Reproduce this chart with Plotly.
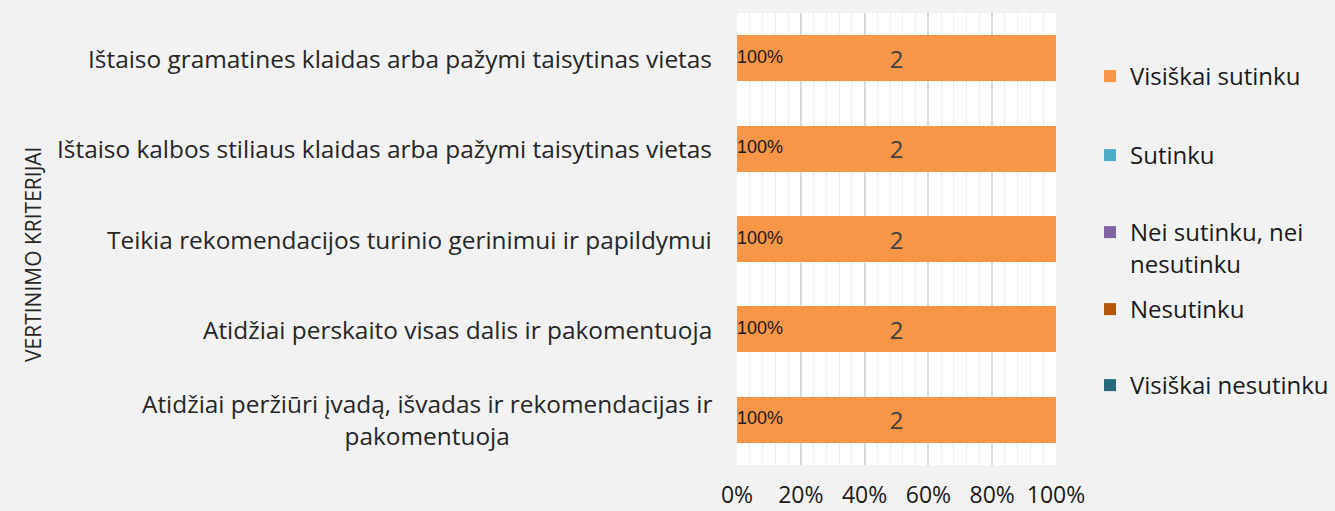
import plotly.graph_objects as go

categories = [
    "Ištaiso gramatines klaidas arba pažymi taisytinas vietas",
    "Ištaiso kalbos stiliaus klaidas arba pažymi taisytinas vietas",
    "Teikia rekomendacijos turinio gerinimui ir papildymui",
    "Atidžiai perskaito visas dalis ir pakomentuoja",
    "Atidžiai peržiūri įvadą, išvadas ir rekomendacijas ir<br>pakomentuoja",
]
series_names = ["Visiškai sutinku", "Sutinku", "Nei sutinku, nei<br>nesutinku",
                "Nesutinku", "Visiškai nesutinku"]
series_values = [
    [2, 2, 2, 2, 2],
    [0, 0, 0, 0, 0],
    [0, 0, 0, 0, 0],
    [0, 0, 0, 0, 0],
    [0, 0, 0, 0, 0],
]
percent_labels = ["100%", "100%", "100%", "100%", "100%"]
x_ticks = [0, 20, 40, 60, 80, 100]
x_ticklabels = ["0%", "20%", "40%", "60%", "80%", "100%"]
colors = ["#F79646", "#4BACC6", "#8064A2", "#B65708", "#276A7C"]

FONT = "Open Sans"
W, H = 1335, 511
ML, MR, MT, MB = 737, 279, 13, 46
PW, PH = W - ML - MR, H - MT - MB

legend_names = ["legend", "legend2", "legend3", "legend4", "legend5"]
legend_tops_px = [54, 133, 210, 287, 363]

fig = go.Figure()
for i, (name, vals) in enumerate(zip(series_names, series_values)):
    fig.add_trace(go.Bar(
        y=categories, x=vals, name=name, orientation="h",
        marker=dict(color=colors[i], line=dict(width=0)),
        text=[str(v) if v else "" for v in vals] if i == 0 else None,
        textposition="inside", insidetextanchor="middle",
        textfont=dict(family=FONT, size=24, color="#404040"),
        legend=legend_names[i],
        hoverinfo="skip",
    ))

fig.add_trace(go.Scatter(
    y=categories, x=[0] * len(categories), mode="text",
    text=percent_labels, textposition="middle right",
    textfont=dict(family="Liberation Sans", size=18, color="#1a1a1a"),
    showlegend=False, cliponaxis=False, hoverinfo="skip",
))

for c in categories:
    fig.add_annotation(
        x=0, xref="paper", y=c, yref="y", text=c, showarrow=False,
        xanchor="right", align="center", xshift=-23,
        font=dict(family=FONT, size=24.4, color="#262626"),
    )

fig.add_annotation(
    x=(17 - ML) / PW, xref="paper", y=1 - (255 - MT) / PH, yref="paper",
    text="VERTINIMO KRITERIJAI",
    showarrow=False, textangle=-90, font=dict(family=FONT, size=21, color="#262626"),
)

legend_common = dict(
    x=(1090 - ML) / PW, xanchor="left", yanchor="top", valign="top",
    font=dict(family=FONT, size=24, color="#1a1a1a"),
    itemwidth=30, bgcolor="rgba(0,0,0,0)",
)
for ln, top in zip(legend_names, legend_tops_px):
    fig.layout[ln] = dict(legend_common, y=1 - (top - MT) / PH)

fig.update_layout(
    width=W, height=H,
    paper_bgcolor="#F2F2F2", plot_bgcolor="#FFFFFF",
    barmode="stack", barnorm="percent", bargap=0.49,
    margin=dict(l=ML, r=MR, t=MT, b=MB, autoexpand=False),
    showlegend=True,
    xaxis=dict(
        range=[0, 100], tickvals=x_ticks, ticktext=x_ticklabels,
        showgrid=True, gridcolor="#D9D9D9", gridwidth=1.5,
        minor=dict(dtick=4, showgrid=True, gridcolor="#EBEBEB", gridwidth=1),
        zeroline=False, showline=False, automargin=False,
        tickfont=dict(family=FONT, size=23, color="#1a1a1a"),
        ticklabelstandoff=14, fixedrange=True,
    ),
    yaxis=dict(
        categoryorder="array", categoryarray=categories, autorange="reversed",
        showticklabels=False, showgrid=False, zeroline=False, automargin=False,
        showline=False, fixedrange=True,
    ),
)

fig.write_html(
    "out.html",
    config={"displayModeBar": False},
    post_script="document.body.style.margin='0';document.body.style.background='#F2F2F2';",
)
